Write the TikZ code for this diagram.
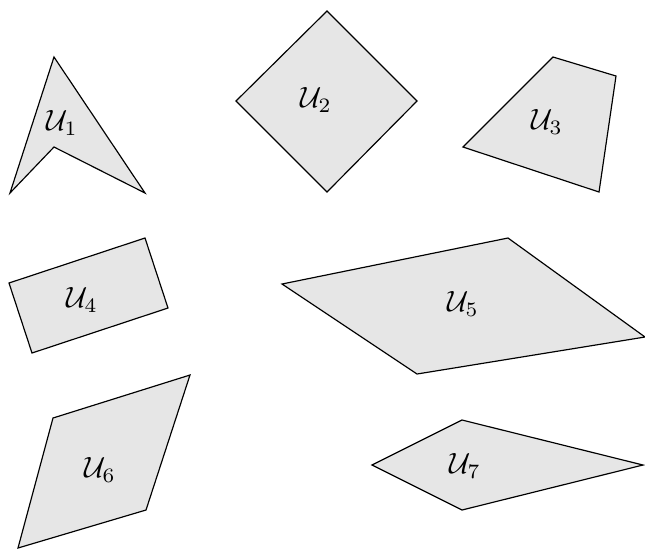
\documentclass[tikz,border=0pt]{standalone}
\usepackage{tikz}
\usepackage{amsmath}
\definecolor{regFill}{HTML}{e6e6e6}

\begin{document}
\begin{tikzpicture}[x=0.012cm, y=-0.012cm, reg/.style={draw=black, fill=regFill, line join=miter}, lbl/.style={inner sep=0pt, font=\normalsize}]
\useasboundingbox (0,0) rectangle (645,549);
\draw[reg] (54,57) -- (145,193) -- (54,147) -- (10,193) -- cycle;
\draw[reg] (327,11) -- (417,101) -- (327,192) -- (236,101) -- cycle;
\draw[reg] (553,57) -- (616,76) -- (599,192) -- (463,147) -- cycle;
\draw[reg] (9,283) -- (145,238) -- (168,308) -- (32,353) -- cycle;
\draw[reg] (282,284) -- (508,238) -- (645,337) -- (417,374) -- cycle;
\draw[reg] (53,418) -- (190,375) -- (146,510) -- (18,548) -- cycle;
\draw[reg] (372,465) -- (462,420) -- (643,465) -- (462,510) -- cycle;
\node[lbl] (u1) at (62,123) {$\mathcal{U}_1$};
\node[lbl] (u2) at (316,100) {$\mathcal{U}_2$};
\node[lbl] (u3) at (547,122) {$\mathcal{U}_3$};
\node[lbl] (u4) at (82,300) {$\mathcal{U}_4$};
\node[lbl] (u5) at (463,304) {$\mathcal{U}_5$};
\node[lbl] (u6) at (100,470) {$\mathcal{U}_6$};
\node[lbl] (u7) at (465,466) {$\mathcal{U}_7$};
\end{tikzpicture}
\end{document}
